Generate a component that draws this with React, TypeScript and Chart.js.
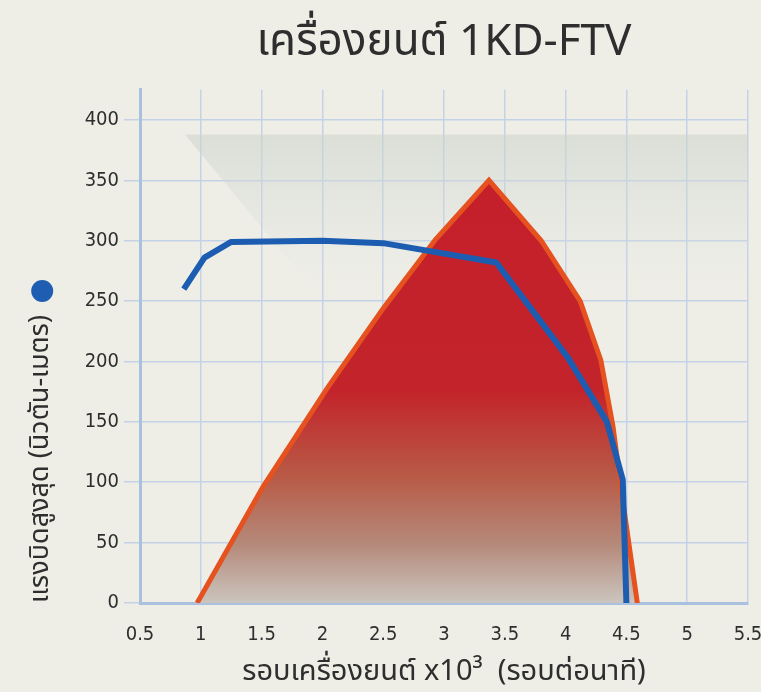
import React, { useEffect, useRef } from "react";
import { Chart, registerables } from "chart.js";

Chart.register(...registerables);

// ---- data ----
const powerRpm = [0.97, 1.51, 2.04, 2.5, 2.93, 3.37, 3.8, 4.12, 4.29, 4.39, 4.46, 4.59];
const powerVal = [0, 96, 178, 244, 301, 350, 300, 250, 201, 146, 92, 0];

const torqueRpm = [0.86, 1.03, 1.25, 2.0, 2.5, 3.43, 4.02, 4.34, 4.47, 4.5];
const torqueVal = [260, 286, 299, 300, 298, 282, 203, 150, 102, 0];

// decorative grey backdrop band (data units)
const bandX = [0.87, 5.5, 5.5, 2.0, 0.87];
const bandY = [388, 388, 250, 250, 388];

const xTickValues = [0.5, 1, 1.5, 2, 2.5, 3, 3.5, 4, 4.5, 5, 5.5];
const yTickValues = [0, 50, 100, 150, 200, 250, 300, 350, 400];
const xMin = 0.5;
const xMax = 5.5;
const yMin = 0;
const yMax = 425;

const titleText = "เครื่องยนต์ 1KD-FTV";
const xTitle = "รอบเครื่องยนต์ x10³  (รอบต่อนาที)";
const yTitle = "แรงบิดสูงสุด (นิวตัน-เมตร)";

const THAI = '"Noto Sans Thai", "Noto Sans", "DejaVu Sans", sans-serif';
const TICKF = '"DejaVu Sans Condensed", "Liberation Sans Narrow", "DejaVu Sans", sans-serif';

const W = 761;
const H = 692;
const Y_TITLE_SIZE = 27;
const Y_TITLE_PAD = 26;

export default function App() {
  const ref = useRef<HTMLCanvasElement | null>(null);

  useEffect(() => {
    const canvas = ref.current;
    if (!canvas) return;

    const bgPlugin = {
      id: "pageBg",
      beforeDraw(chart: any) {
        const ctx = chart.ctx;
        ctx.save();
        ctx.fillStyle = "#eeeee7";
        ctx.fillRect(0, 0, chart.width, chart.height);
        ctx.restore();
      },
    };

    const dotPlugin = {
      id: "yTitleDot",
      afterDraw(chart: any) {
        const ys = chart.scales.y;
        const ctx = chart.ctx;
        ctx.save();
        ctx.font = `${Y_TITLE_SIZE}px ${THAI}`;
        const w = ctx.measureText(yTitle).width;
        const cx = ys.left + Y_TITLE_PAD + (Y_TITLE_SIZE * 1.2) / 2;
        const cy = ys.bottom - w - 24;
        ctx.beginPath();
        ctx.arc(cx, cy, 11, 0, Math.PI * 2);
        ctx.fillStyle = "#1e5db2";
        ctx.fill();
        ctx.restore();
      },
    };

    const powerFill = (c: any) => {
      const chart = c.chart;
      const area = chart.chartArea;
      if (!area) return "#c41f2b";
      const ys = chart.scales.y;
      const top = ys.getPixelForValue(350);
      const bot = ys.getPixelForValue(0);
      const g = chart.ctx.createLinearGradient(0, top, 0, bot);
      g.addColorStop(0, "#c41f2b");
      g.addColorStop(0.5, "#c3242b");
      g.addColorStop(0.7, "#b85a46");
      g.addColorStop(0.86, "#b5897a");
      g.addColorStop(1, "#cbc5be");
      return g;
    };

    const bandFill = (c: any) => {
      const chart = c.chart;
      const area = chart.chartArea;
      if (!area) return "rgba(205,212,205,0.5)";
      const ys = chart.scales.y;
      const top = ys.getPixelForValue(388);
      const bot = ys.getPixelForValue(250);
      const g = chart.ctx.createLinearGradient(0, top, 0, bot);
      g.addColorStop(0, "rgba(203,210,203,0.55)");
      g.addColorStop(0.5, "rgba(212,218,212,0.3)");
      g.addColorStop(1, "rgba(230,232,226,0)");
      return g;
    };

    const chart = new Chart(canvas, {
      type: "line",
      data: {
        datasets: [
          {
            label: "torque",
            data: torqueRpm.map((x, i) => ({ x, y: torqueVal[i] })),
            borderColor: "#1c5db1",
            borderWidth: 6,
            pointRadius: 0,
            fill: false,
            tension: 0,
            borderJoinStyle: "round",
            order: 1,
          },
          {
            label: "power",
            data: powerRpm.map((x, i) => ({ x, y: powerVal[i] })),
            borderColor: "#e5521f",
            borderWidth: 5,
            backgroundColor: powerFill,
            pointRadius: 0,
            fill: "origin",
            tension: 0,
            order: 2,
          },
          {
            label: "band",
            data: bandX.map((x, i) => ({ x, y: bandY[i] })),
            borderWidth: 0,
            borderColor: "rgba(0,0,0,0)",
            backgroundColor: bandFill,
            pointRadius: 0,
            fill: "shape",
            tension: 0,
            order: 3,
          },
        ],
      },
      options: {
        animation: false,
        responsive: false,
        maintainAspectRatio: false,
        devicePixelRatio: 1,
        layout: { padding: { left: 0, right: 13, top: 0, bottom: 0 } },
        plugins: {
          legend: { display: false },
          tooltip: { enabled: false },
          title: {
            display: true,
            text: titleText,
            fullSize: false,
            color: "#2e2e2e",
            font: { family: THAI, size: 44, weight: "normal" },
            padding: { top: 20, bottom: 17 },
          },
        },
        scales: {
          x: {
            type: "linear",
            min: xMin,
            max: xMax,
            afterBuildTicks: (s: any) => {
              s.ticks = xTickValues.map((v) => ({ value: v }));
            },
            afterFit: (s: any) => {
              s.height = 89;
              s.paddingLeft = 0;
              s.paddingRight = 0;
            },
            ticks: {
              color: "#2e2e2e",
              font: { family: TICKF, size: 20 },
              padding: 20,
              maxRotation: 0,
              autoSkip: false,
              callback: (v: any) => String(v),
            },
            grid: { color: "#c4d2e8", lineWidth: 1.5, drawTicks: false },
            border: { color: "#a9c1df", width: 3 },
            title: {
              display: true,
              text: xTitle,
              color: "#2e2e2e",
              font: { family: THAI, size: 29 },
              padding: { top: 6, bottom: 0 },
            },
          },
          y: {
            type: "linear",
            min: yMin,
            max: yMax,
            afterBuildTicks: (s: any) => {
              s.ticks = yTickValues.map((v) => ({ value: v }));
            },
            afterFit: (s: any) => {
              s.width = 140;
              s.paddingTop = 0;
              s.paddingBottom = 0;
            },
            ticks: {
              color: "#2e2e2e",
              font: { family: TICKF, size: 20 },
              padding: 5,
              callback: (v: any) => String(v),
            },
            grid: { color: "#c4d2e8", lineWidth: 1.5, tickLength: 16 },
            border: { color: "#a9c1df", width: 3 },
            title: {
              display: true,
              text: yTitle,
              align: "start",
              color: "#2e2e2e",
              font: { family: THAI, size: Y_TITLE_SIZE },
              padding: { top: Y_TITLE_PAD, bottom: 0 },
            },
          },
        },
      },
      plugins: [bgPlugin, dotPlugin],
    } as any);

    return () => chart.destroy();
  }, []);

  return (
    <div
      style={{
        position: "fixed",
        left: 0,
        top: 0,
        width: W,
        height: H,
        background: "#eeeee7",
      }}
    >
      <canvas ref={ref} width={W} height={H} style={{ display: "block" }} />
    </div>
  );
}
